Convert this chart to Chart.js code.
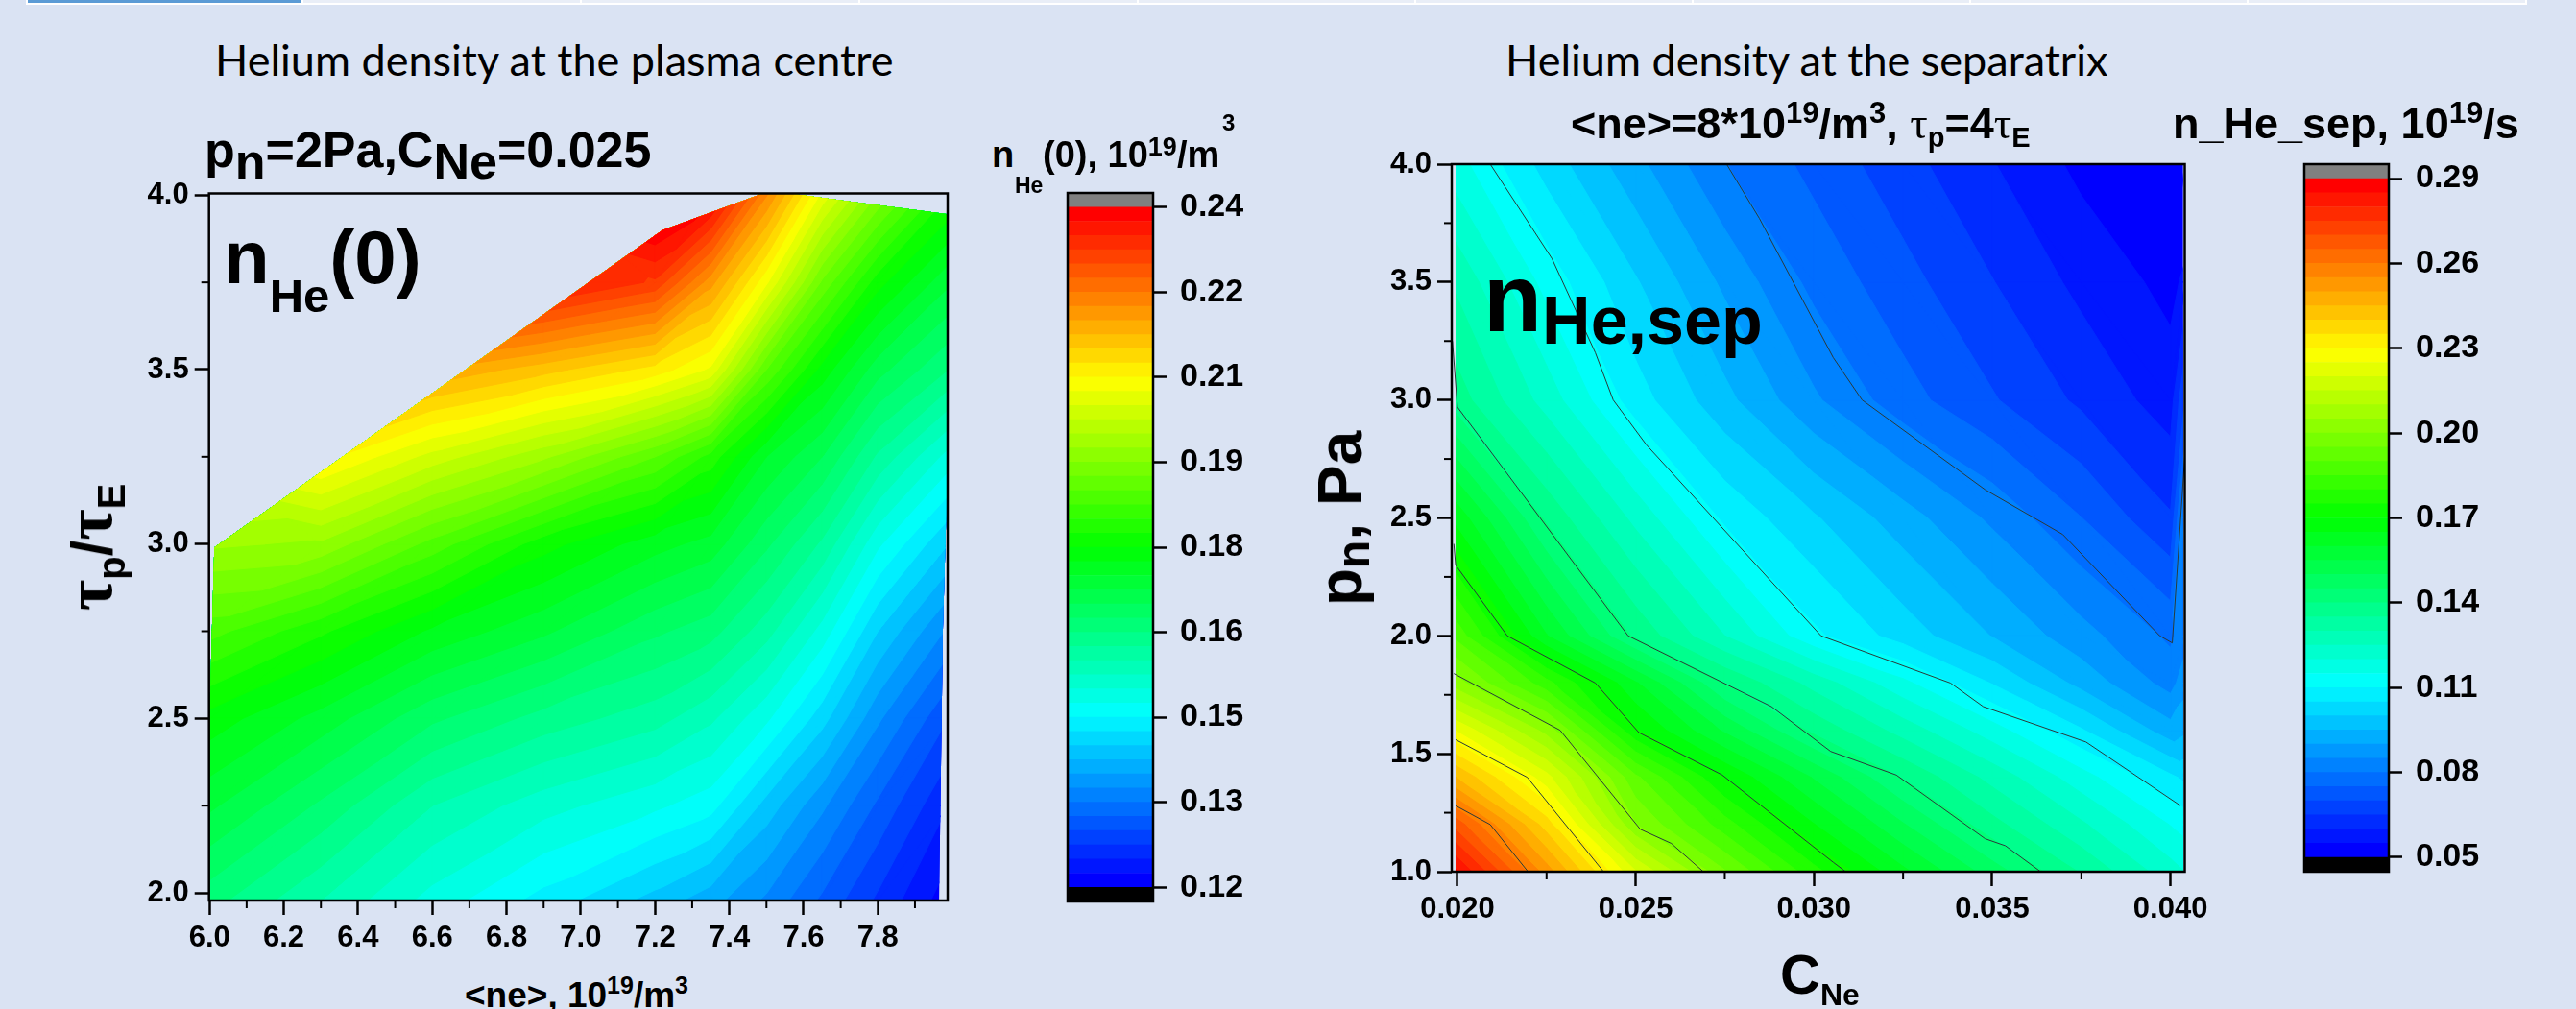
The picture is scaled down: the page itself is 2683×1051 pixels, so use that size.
<!DOCTYPE html>
<html>
<head>
<meta charset="utf-8">
<title>Helium density</title>
<script src="https://cdn.jsdelivr.net/npm/chart.js@4"></script>
<style>
  html, body { margin: 0; padding: 0; width: 2683px; height: 1051px; overflow: hidden; background: #dae3f3; }
  canvas { position: absolute; }
  .strip { position: absolute; top: 0; height: 3px; border-bottom: 2px solid #fff; border-right: 2px solid #fff; background: #e9eef7; }
  .txt { position: absolute; white-space: nowrap; line-height: 1; color: #000; font-family: "Liberation Sans", sans-serif; font-weight: bold; }
  .title { font-family: Lato, sans-serif; font-weight: normal; font-size: 45px; }
  .txt span { position: relative; }
  .tau { font-family: "Liberation Serif", serif; font-weight: normal; }
  .rot { transform: translate(-50%, -50%) rotate(-90deg); }
</style>
</head>
<body>
<div id="strips"></div>
<canvas id="leftChart" style="left:100px;top:161px"></canvas>
<canvas id="leftBar" style="left:1100px;top:141px"></canvas>
<canvas id="rightChart" style="left:1420px;top:131px"></canvas>
<canvas id="rightBar" style="left:2380px;top:111px"></canvas>

<div class="txt title" style="left:224px;top:40px">Helium density at the plasma centre</div>
<div class="txt title" style="left:1568px;top:40px">Helium density at the separatrix</div>

<div class="txt" style="left:213px;top:130px;font-size:52px">p<span style="top:12px">n</span>=2Pa,C<span style="top:12px">Ne</span>=0.025</div>
<div class="txt" style="left:233px;top:229px;font-size:78px">n<span style="font-size:49px;top:30px">He</span>(0)</div>
<div class="txt rot" style="left:93px;top:570px;font-size:60px"><span class="tau" style="font-size:70px;font-weight:bold">τ</span><span style="font-size:40px;top:14px">p</span>/<span class="tau" style="font-size:70px;font-weight:bold">τ</span><span style="font-size:40px;top:14px">E</span></div>
<div class="txt" style="left:484px;top:1018px;font-size:37px">&lt;ne&gt;, 10<span style="font-size:25px;top:-14px">19</span>/m<span style="font-size:25px;top:-14px">3</span></div>

<div class="txt" style="left:1033px;top:142px;font-size:38px">n</div>
<div class="txt" style="left:1057px;top:182px;font-size:23px">He</div>
<div class="txt" style="left:1086px;top:142px;font-size:38px">(0), 10<span style="font-size:27px;top:-12px">19</span>/m</div>
<div class="txt" style="left:1273px;top:116px;font-size:24px">3</div>

<div class="txt" style="left:1636px;top:106px;font-size:45px">&lt;ne&gt;=8*10<span style="font-size:31px;top:-16px">19</span>/m<span style="font-size:31px;top:-16px">3</span>, <span class="tau" style="font-size:46px">τ</span><span style="font-size:29px;top:9px">p</span>=4<span class="tau" style="font-size:46px">τ</span><span style="font-size:29px;top:9px">E</span></div>
<div class="txt" style="left:2263px;top:106px;font-size:45px">n_He_sep, 10<span style="font-size:32px;top:-16px">19</span>/s</div>

<div class="txt" style="left:1545px;top:260px;font-size:100px">n<span style="font-size:70px;top:13px">He,sep</span></div>
<div class="txt rot" style="left:1396px;top:540px;font-size:64px">p<span style="font-size:48px;top:8px">n</span>, Pa</div>
<div class="txt" style="left:1854px;top:986px;font-size:58px">C<span style="font-size:32px;top:12px">Ne</span></div>

<script>
// ---------- left plot: n_He(0) ----------
const neValues = [6.0, 6.3, 6.6, 6.9, 7.2, 7.35, 7.5, 7.65, 7.8, 7.99];
const tauValues = [1.978, 2.25, 2.5, 2.75, 3.0, 3.25, 3.5, 3.75, 4.005];
const nHe0 = [
  [0.166, 0.160, 0.154, 0.149, 0.144, 0.141, 0.137, 0.132, 0.127, 0.121],
  [0.173, 0.167, 0.160, 0.156, 0.153, 0.151, 0.144, 0.138, 0.132, 0.125],
  [0.179, 0.174, 0.168, 0.164, 0.161, 0.158, 0.153, 0.146, 0.138, 0.130],
  [0.1885, 0.183, 0.177, 0.173, 0.168, 0.166, 0.161, 0.154, 0.145, 0.137],
  [0.198, 0.197, 0.189, 0.181, 0.176, 0.174, 0.168, 0.162, 0.153, 0.145],
  [0.207, 0.211, 0.204, 0.198, 0.190, 0.184, 0.175, 0.170, 0.162, 0.154],
  [0.220, 0.225, 0.220, 0.216, 0.2115, 0.207, 0.190, 0.179, 0.171, 0.165],
  [0.235, 0.240, 0.240, 0.237, 0.232, 0.221, 0.208, 0.192, 0.181, 0.173],
  [0.240, 0.240, 0.240, 0.240, 0.245, 0.240, 0.223, 0.207, 0.195, 0.183]
];
// outline of the area that has data
const leftHullX = [6.0, 6.0, 6.013, 7.22, 7.49, 7.56, 7.99, 7.99, 7.975, 7.965];
const leftHullY = [1.978, 2.5, 2.99, 3.9, 4.005, 4.005, 3.945, 3.3, 2.75, 1.978];

const neTicks = [6.0, 6.2, 6.4, 6.6, 6.8, 7.0, 7.2, 7.4, 7.6, 7.8];
const neMinor = [6.1, 6.3, 6.5, 6.7, 6.9, 7.1, 7.3, 7.5, 7.7, 7.9];
const tauTicks = [2.0, 2.5, 3.0, 3.5, 4.0];
const tauMinor = [2.25, 2.75, 3.25, 3.75];

const leftLevels = [
  0.12, 0.1225, 0.125, 0.1275, 0.13, 0.1325, 0.135, 0.1375, 0.14, 0.1425,
  0.145, 0.1475, 0.15, 0.1525, 0.155, 0.1575, 0.16, 0.1625, 0.165, 0.1675,
  0.17, 0.1725, 0.175, 0.1775, 0.18, 0.1825, 0.185, 0.1875, 0.19, 0.1925,
  0.195, 0.1975, 0.2, 0.2025, 0.205, 0.2075, 0.21, 0.2125, 0.215, 0.2175,
  0.22, 0.2225, 0.225, 0.2275, 0.23, 0.2325, 0.235, 0.2375, 0.24
];
const leftBarTicks = [0.12, 0.135, 0.15, 0.165, 0.18, 0.195, 0.21, 0.225, 0.24];
const leftBarLabels = ['0.12', '0.13', '0.15', '0.16', '0.18', '0.19', '0.21', '0.22', '0.24'];

// ---------- right plot: n_He,sep ----------
const cNeValues = [0.0198, 0.0225, 0.025, 0.0275, 0.03, 0.0325, 0.035, 0.0375, 0.04, 0.0404];
const pnValues = [1.0, 1.2, 1.4, 1.6, 1.8, 2.0, 2.5, 3.0, 3.5, 4.0];
const nHeSep = [
  [0.288, 0.2526, 0.2204, 0.1955, 0.1767, 0.1612, 0.1475, 0.1345, 0.122, 0.12],
  [0.27, 0.2375, 0.2002, 0.1822, 0.1652, 0.1504, 0.1367, 0.1258, 0.1148, 0.113],
  [0.2465, 0.2219, 0.1911, 0.1698, 0.1545, 0.1395, 0.1283, 0.1171, 0.106, 0.104],
  [0.226, 0.203, 0.1707, 0.1541, 0.1386, 0.1279, 0.1172, 0.1055, 0.092, 0.094],
  [0.2035, 0.1818, 0.1606, 0.1398, 0.1281, 0.1163, 0.1047, 0.0933, 0.083, 0.088],
  [0.19, 0.1603, 0.1388, 0.125, 0.1111, 0.1027, 0.0948, 0.0869, 0.079, 0.083],
  [0.165, 0.1389, 0.1235, 0.1089, 0.1006, 0.0923, 0.084, 0.0751, 0.0655, 0.085],
  [0.1385, 0.1228, 0.1073, 0.0965, 0.0858, 0.077, 0.0705, 0.064, 0.0575, 0.07],
  [0.13, 0.1132, 0.1005, 0.0889, 0.0785, 0.0718, 0.0652, 0.0586, 0.0535, 0.056],
  [0.118, 0.1029, 0.0915, 0.0802, 0.0735, 0.0669, 0.0603, 0.0537, 0.05, 0.05]
];
const rightHullX = [0.01995, 0.01995, 0.04035, 0.04035];
const rightHullY = [1.0, 4.0, 4.0, 1.0];

// contour lines, one pair of arrays per level
const line008X = [0.02755, 0.02847, 0.03054, 0.03135, 0.0348, 0.03698, 0.0397, 0.04005, 0.0404];
const line008Y = [4.0, 3.77, 3.18, 3.0, 2.62, 2.43, 2.0, 1.97, 2.76];
const line011X = [0.02092, 0.02265, 0.02387, 0.02437, 0.0253, 0.0302, 0.03383, 0.03475, 0.03763, 0.04028];
const line011Y = [4.0, 3.6, 3.2, 3.0, 2.81, 2.0, 1.8, 1.7, 1.55, 1.28];
const line014X = [0.01986, 0.02, 0.02479, 0.02881, 0.03047, 0.03231, 0.0348, 0.03537, 0.03636];
const line014Y = [3.25, 2.97, 2.0, 1.7, 1.51, 1.41, 1.14, 1.11, 1.0];
const line017X = [0.0199, 0.01995, 0.0214, 0.02387, 0.02509, 0.02743, 0.03054, 0.03089];
const line017Y = [2.39, 2.3, 2.0, 1.8, 1.59, 1.41, 1.04, 1.0];
const line020X = [0.0199, 0.02288, 0.02513, 0.026, 0.0269];
const line020Y = [1.84, 1.6, 1.18, 1.12, 1.0];
const line023X = [0.01995, 0.02196, 0.0241];
const line023Y = [1.56, 1.4, 1.0];
const line026X = [0.01995, 0.02092, 0.02198];
const line026Y = [1.28, 1.2, 1.0];

const cNeTicks = [0.020, 0.025, 0.030, 0.035, 0.040];
const cNeMinor = [0.0225, 0.0275, 0.0325, 0.0375];
const pnTicks = [1.0, 1.5, 2.0, 2.5, 3.0, 3.5, 4.0];
const pnMinor = [1.25, 1.75, 2.25, 2.75, 3.25, 3.75];

const rightLevels = [
  0.05, 0.055, 0.06, 0.065, 0.07, 0.075, 0.08, 0.085, 0.09, 0.095,
  0.1, 0.105, 0.11, 0.115, 0.12, 0.125, 0.13, 0.135, 0.14, 0.145,
  0.15, 0.155, 0.16, 0.165, 0.17, 0.175, 0.18, 0.185, 0.19, 0.195,
  0.2, 0.205, 0.21, 0.215, 0.22, 0.225, 0.23, 0.235, 0.24, 0.245,
  0.25, 0.255, 0.26, 0.265, 0.27, 0.275, 0.28, 0.285, 0.29
];
const rightBarTicks = [0.05, 0.08, 0.11, 0.14, 0.17, 0.20, 0.23, 0.26, 0.29];
const rightBarLabels = ['0.05', '0.08', '0.11', '0.14', '0.17', '0.20', '0.23', '0.26', '0.29'];

const stripEdges = [29, 316, 606, 896, 1186, 1475, 1764, 2053, 2342, 2632];

// top strip left over from the slide
stripEdges.slice(0, -1).forEach((x, i) => {
  const d = document.createElement('div');
  d.className = 'strip';
  d.style.left = x + 'px';
  d.style.width = (stripEdges[i + 1] - x - 2) + 'px';
  if (i === 0) {
    d.style.background = '#5b9bd5';
    d.style.borderLeft = '2px solid #fff';
    d.style.marginLeft = '-2px';
  }
  document.getElementById('strips').appendChild(d);
});

const TICK_FONT = { family: '"Liberation Sans", sans-serif', weight: 'bold', size: 31 };
const BAR_FONT = { family: '"Liberation Sans", sans-serif', weight: 'bold', size: 34 };

// rainbow: blue, cyan, green, yellow, red
function bandColor(k, count) {
  const t = k / (count - 1) * 4;
  const stops = [[0, 0, 255], [0, 255, 255], [0, 255, 0], [255, 255, 0], [255, 0, 0]];
  const i = Math.min(Math.floor(t), 3);
  const f = t - i;
  const c = stops[i].map((v, j) => Math.round(v + (stops[i + 1][j] - v) * f));
  return `rgb(${c[0]},${c[1]},${c[2]})`;
}

// keep the part of a triangle where z >= level
function clipAbove(poly, level) {
  const out = [];
  for (let i = 0; i < poly.length; i++) {
    const a = poly[i];
    const b = poly[(i + 1) % poly.length];
    if (a.z >= level) out.push(a);
    if ((a.z >= level) !== (b.z >= level)) {
      const f = (level - a.z) / (b.z - a.z);
      out.push({ x: a.x + (b.x - a.x) * f, y: a.y + (b.y - a.y) * f, z: level });
    }
  }
  return out;
}

// filled contour bands, through the chart's own scales
function contourFill(xs, ys, zs, levels, hullX, hullY) {
  return {
    id: 'contourFill',
    beforeDatasetsDraw(chart) {
      const ctx = chart.ctx;
      const sx = chart.scales.x;
      const sy = chart.scales.y;
      const node = (i, j) => ({ x: sx.getPixelForValue(xs[i]), y: sy.getPixelForValue(ys[j]), z: zs[j][i] });
      const bands = levels.length - 1;

      // cut each cell along the diagonal with the smaller change
      const tris = [];
      for (let j = 0; j < ys.length - 1; j++) {
        for (let i = 0; i < xs.length - 1; i++) {
          const a = node(i, j), b = node(i + 1, j), c = node(i + 1, j + 1), d = node(i, j + 1);
          if (Math.abs(a.z - c.z) < Math.abs(b.z - d.z)) {
            tris.push([a, b, c], [a, c, d]);
          } else {
            tris.push([a, b, d], [b, c, d]);
          }
        }
      }

      ctx.save();
      ctx.beginPath();
      hullX.forEach((x, i) => {
        ctx.lineTo(sx.getPixelForValue(x), sy.getPixelForValue(hullY[i]));
      });
      ctx.closePath();
      ctx.clip();
      ctx.lineWidth = 1;
      ctx.lineJoin = 'round';

      // lowest band first, every higher band on top of it
      for (let k = 0; k < bands; k++) {
        const color = bandColor(k, bands);
        ctx.fillStyle = color;
        ctx.strokeStyle = color;
        ctx.beginPath();
        tris.forEach(tri => {
          const poly = k === 0 ? tri : clipAbove(tri, levels[k]);
          if (poly.length < 3) return;
          ctx.moveTo(poly[0].x, poly[0].y);
          poly.slice(1).forEach(p => ctx.lineTo(p.x, p.y));
          ctx.closePath();
        });
        ctx.fill();
        ctx.stroke();
      }
      ctx.restore();
    }
  };
}

// minor tick marks and the box around the plot
function frameAndMinor(xMinor, yMinor) {
  return {
    id: 'frameAndMinor',
    afterDraw(chart) {
      const ctx = chart.ctx;
      const area = chart.chartArea;
      ctx.save();
      ctx.strokeStyle = '#000';
      ctx.lineWidth = 2;
      xMinor.forEach(v => {
        const x = chart.scales.x.getPixelForValue(v);
        ctx.beginPath();
        ctx.moveTo(x, area.bottom);
        ctx.lineTo(x, area.bottom + 8);
        ctx.stroke();
      });
      yMinor.forEach(v => {
        const y = chart.scales.y.getPixelForValue(v);
        ctx.beginPath();
        ctx.moveTo(area.left, y);
        ctx.lineTo(area.left - 8, y);
        ctx.stroke();
      });
      ctx.lineWidth = 2.5;
      ctx.strokeRect(area.left, area.top, area.right - area.left, area.bottom - area.top);
      ctx.restore();
    }
  };
}

function axis(min, max, ticks, digits, width, height) {
  return {
    type: 'linear',
    min: min,
    max: max,
    border: { display: false },
    grid: { drawOnChartArea: false, drawTicks: true, tickLength: 15, tickWidth: 2.5, tickColor: '#000' },
    ticks: {
      autoSkip: false,
      maxRotation: 0,
      color: '#000',
      font: TICK_FONT,
      padding: 6,
      callback: v => Number(v).toFixed(digits)
    },
    afterBuildTicks(scale) { scale.ticks = ticks.map(v => ({ value: v })); },
    afterFit(scale) {
      if (width) scale.width = width;
      if (height) scale.height = height;
    }
  };
}

function lineDataset(xs, ys) {
  return {
    type: 'scatter',
    data: xs.map((x, i) => ({ x: x, y: ys[i] })),
    showLine: true,
    fill: false,
    tension: 0,
    borderColor: '#2b3a3a',
    borderWidth: 1,
    pointRadius: 0
  };
}

function contourChart(id, w, h, padding, xAxis, yAxis, datasets, plugins) {
  const canvas = document.getElementById(id);
  canvas.width = w;
  canvas.height = h;
  new Chart(canvas, {
    type: 'scatter',
    data: { datasets: datasets },
    plugins: plugins,
    options: {
      responsive: false,
      animation: false,
      layout: { padding: padding },
      plugins: { legend: { display: false }, title: { display: false }, tooltip: { enabled: false } },
      scales: { x: xAxis, y: yAxis }
    }
  });
}

// colour bar: one floating bar per band, grey and black end caps
function colorBar(id, w, h, padding, axisWidth, levels, ticks, labels, capLow, capHigh) {
  const canvas = document.getElementById(id);
  canvas.width = w;
  canvas.height = h;
  const bands = levels.length - 1;
  const datasets = [];
  datasets.push({ data: [[capLow, levels[0]]], backgroundColor: '#000', grouped: false });
  for (let k = 0; k < bands; k++) {
    datasets.push({ data: [[levels[k], levels[k + 1]]], backgroundColor: bandColor(k, bands), grouped: false });
  }
  datasets.push({ data: [[levels[bands], capHigh]], backgroundColor: '#808080', grouped: false });
  new Chart(canvas, {
    type: 'bar',
    data: { labels: ['band'], datasets: datasets },
    plugins: [frameAndMinor([], [])],
    options: {
      responsive: false,
      animation: false,
      barPercentage: 1,
      categoryPercentage: 1,
      layout: { padding: padding },
      plugins: { legend: { display: false }, title: { display: false }, tooltip: { enabled: false } },
      scales: {
        x: { display: false },
        y: {
          type: 'linear',
          position: 'right',
          min: capLow,
          max: capHigh,
          border: { display: false },
          grid: { drawOnChartArea: false, drawTicks: true, tickLength: 14, tickWidth: 2.5, tickColor: '#000' },
          ticks: {
            autoSkip: false,
            color: '#000',
            font: BAR_FONT,
            padding: 14,
            callback: (v, i) => labels[i]
          },
          afterBuildTicks(scale) { scale.ticks = ticks.map(v => ({ value: v })); },
          afterFit(scale) { scale.width = axisWidth; }
        }
      }
    }
  });
}

// paddings are larger than half a tick label, so the plot box lands where it should
contourChart('leftChart', 900, 849,
  { left: 0, top: 40.5, right: 13, bottom: 0 },
  axis(6 - 0.5 / 387, 7.988, neTicks, 1, 0, 72),
  axis(1.978, 4.005, tauTicks, 1, 117.7, 0),
  [],
  [contourFill(neValues, tauValues, nHe0, leftLevels, leftHullX, leftHullY), frameAndMinor(neMinor, tauMinor)]);

contourChart('rightChart', 906, 869,
  { left: 0, top: 40, right: 50.5, bottom: 0 },
  axis(0.01984, 0.0404, cNeTicks, 3, 0, 92),
  axis(1, 4, pnTicks, 1, 92, 0),
  [
    lineDataset(line008X, line008Y),
    lineDataset(line011X, line011Y),
    lineDataset(line014X, line014Y),
    lineDataset(line017X, line017Y),
    lineDataset(line020X, line020Y),
    lineDataset(line023X, line023Y),
    lineDataset(line026X, line026Y)
  ],
  [contourFill(cNeValues, pnValues, nHeSep, rightLevels, rightHullX, rightHullY), frameAndMinor(cNeMinor, pnMinor)]);

colorBar('leftBar', 220, 858, { left: 12, top: 60, right: 0, bottom: 60 }, 119,
  leftLevels, leftBarTicks, leftBarLabels, 0.1175, 0.2425);
colorBar('rightBar', 240, 857, { left: 20, top: 60, right: 0, bottom: 60 }, 132,
  rightLevels, rightBarTicks, rightBarLabels, 0.0449, 0.2951);
</script>
</body>
</html>
